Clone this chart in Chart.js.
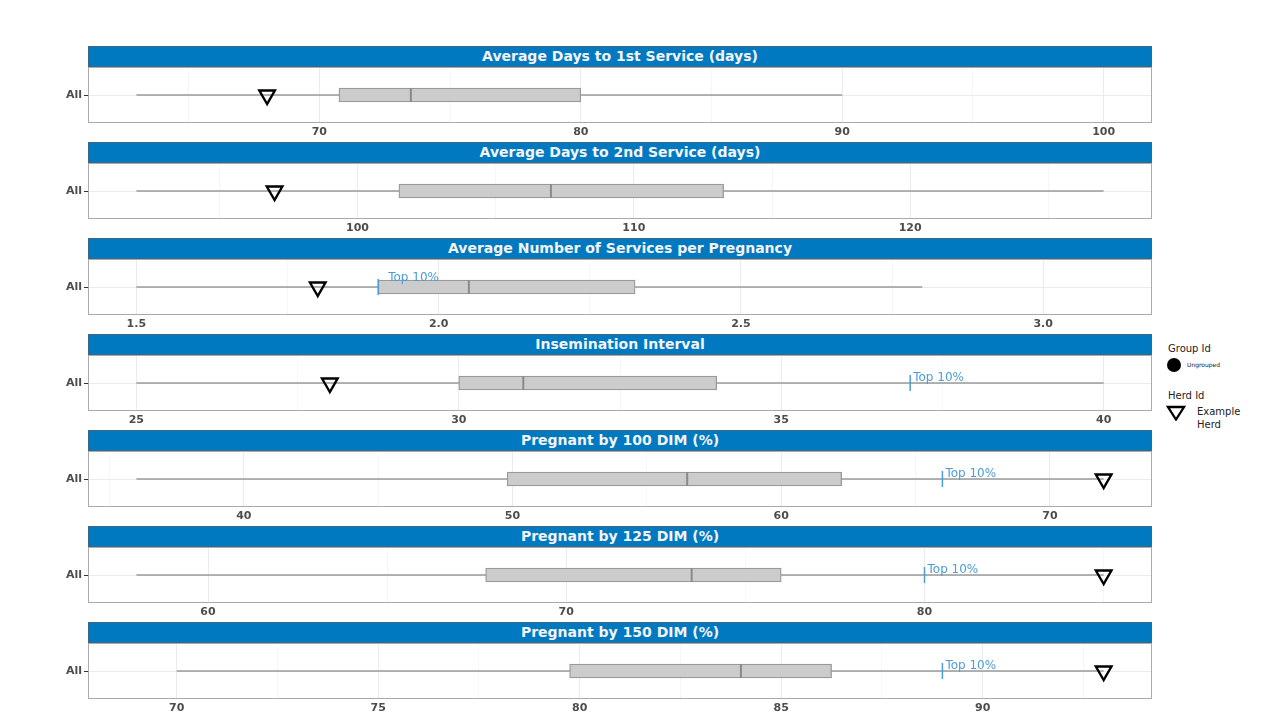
<!DOCTYPE html>
<html>
<head>
<meta charset="utf-8">
<script src="https://cdn.jsdelivr.net/npm/chart.js@4"></script>
<style>
  body { margin: 0; background: #fff; width: 1280px; height: 720px; position: relative; overflow: hidden; font-family: "DejaVu Sans", sans-serif; }
  .strip { position: absolute; left: 88px; width: 1064px; height: 21px; box-sizing: border-box; background: #0079c1; border: 1px solid #3b6789; color: #f4f4f4; font: bold 14px "DejaVu Sans", sans-serif; text-align: center; line-height: 19px; }
  .panel { position: absolute; left: 0; width: 1160px; height: 79px; }
  .legend { position: absolute; left: 1160px; top: 340px; color: #222; font-size: 10px; }
  .legend div { position: absolute; white-space: nowrap; }
</style>
</head>
<body>
<div id="charts"></div>
<div class="legend">
  <div style="left:8px;top:3px;">Group Id</div>
  <svg style="position:absolute;left:6px;top:17px;" width="16" height="16"><circle cx="8" cy="8" r="7" fill="#000"/></svg>
  <div style="left:27px;top:21px;font-size:6px;">Ungrouped</div>
  <div style="left:8px;top:50px;">Herd Id</div>
  <svg style="position:absolute;left:6px;top:65px;" width="20" height="16"><polygon points="2,2 18,2 10,14.5" fill="none" stroke="#000" stroke-width="2.3"/></svg>
  <div style="left:37px;top:66px;">Example</div>
  <div style="left:37px;top:79px;">Herd</div>
</div>
<script>
// Panel titles and box statistics
const titles = [
  'Average Days to 1st Service (days)',
  'Average Days to 2nd Service (days)',
  'Average Number of Services per Pregnancy',
  'Insemination Interval',
  'Pregnant by 100 DIM (%)',
  'Pregnant by 125 DIM (%)',
  'Pregnant by 150 DIM (%)'
];
const whiskerLow  = [63, 92, 1.5, 25, 36, 58, 70];
const q1          = [70.75, 101.5, 1.9, 30, 49.8, 67.75, 79.75];
const median      = [73.5, 107, 2.05, 31, 56.5, 73.5, 84];
const q3          = [80, 113.25, 2.325, 34, 62.25, 76, 86.25];
const whiskerHigh = [90, 127, 2.8, 40, 72, 85, 93];
const herdValue   = [68, 97, 1.8, 28, 72, 85, 93];
const top10       = [null, null, 1.9, 37, 66, 80, 89];

// Axis settings
const majorTicks = [
  [70, 80, 90, 100],
  [100, 110, 120],
  [1.5, 2.0, 2.5, 3.0],
  [25, 30, 35, 40],
  [40, 50, 60, 70],
  [60, 70, 80],
  [70, 75, 80, 85, 90]
];
const axisMin = [61.15, 90.25, 1.42, 24.25, 34.2, 56.65, 67.8];
const axisMax = [101.85, 128.75, 3.18, 40.75, 73.8, 86.35, 94.2];
const tickDecimals = [0, 0, 1, 0, 0, 0, 0];

// label nudges for "Top 10%" text (px)
const labelDx = [3, 3, 10, 3, 3, 3, 3];
const labelDy = [-5, -5, -9, -5, -5, -5, -5];

const BLUE = '#4a9dd6';

function allTicks(i) {
  const m = majorTicks[i];
  const step = m[1] - m[0];
  const out = [];
  for (let v = m[0] - step; v <= m[m.length - 1] + step + 1e-9; v += step / 2) {
    const r = Math.round(v * 1000) / 1000;
    if (r >= axisMin[i] && r <= axisMax[i]) out.push(r);
  }
  return out;
}
function isMajor(i, v) {
  return majorTicks[i].some(m => Math.abs(m - v) < 1e-6);
}

const panelBorder = {
  id: 'panelBorder',
  beforeDatasetsDraw(chart) {
    const a = chart.chartArea, ctx = chart.ctx;
    ctx.save();
    ctx.strokeStyle = '#aaaaaa';
    ctx.lineWidth = 1;
    ctx.strokeRect(a.left + 0.5, a.top + 0.5, a.right - a.left - 1, a.bottom - a.top - 1);
    ctx.restore();
  }
};

const topLabel = {
  id: 'topLabel',
  afterDatasetsDraw(chart, args, opts) {
    const meta = chart.getDatasetMeta(3);
    if (!meta.data.length) return;
    const pt = meta.data[0];
    const ctx = chart.ctx;
    ctx.save();
    ctx.font = '12px "DejaVu Sans"';
    ctx.fillStyle = BLUE;
    ctx.textAlign = 'left';
    ctx.textBaseline = 'middle';
    ctx.fillText('Top 10%', pt.x + opts.dx, pt.y + opts.dy);
    ctx.restore();
  }
};

function makePanel(i) {
  const strip = document.createElement('div');
  strip.className = 'strip';
  strip.style.top = (46 + 96 * i) + 'px';
  strip.textContent = titles[i];
  document.body.appendChild(strip);

  const box = document.createElement('div');
  box.className = 'panel';
  box.style.top = (66 + 96 * i) + 'px';
  const canvas = document.createElement('canvas');
  box.appendChild(canvas);
  document.getElementById('charts').appendChild(box);

  new Chart(canvas.getContext('2d'), {
    type: 'bar',
    data: {
      labels: ['All'],
      datasets: [
        {
          type: 'line',
          data: [{ x: whiskerLow[i], y: 'All' }, { x: whiskerHigh[i], y: 'All' }],
          borderColor: '#9a9a9a',
          borderWidth: 1.3,
          pointRadius: 0,
          order: 4
        },
        {
          type: 'bar',
          data: [[q1[i], q3[i]]],
          backgroundColor: '#cccccc',
          borderColor: '#999999',
          borderWidth: 1.3,
          borderSkipped: false,
          barThickness: 14,
          order: 3
        },
        {
          type: 'scatter',
          data: [{ x: median[i], y: 'All' }],
          pointStyle: 'line',
          rotation: 90,
          pointRadius: 7,
          borderColor: '#8a8a8a',
          borderWidth: 2,
          order: 2
        },
        {
          type: 'scatter',
          data: top10[i] === null ? [] : [{ x: top10[i], y: 'All' }],
          pointStyle: 'line',
          rotation: 90,
          pointRadius: 8,
          borderColor: BLUE,
          borderWidth: 1.5,
          order: 1
        },
        {
          type: 'scatter',
          data: [{ x: herdValue[i], y: 'All' }],
          pointStyle: 'triangle',
          rotation: 180,
          pointRadius: 9,
          backgroundColor: 'rgba(255,255,255,0)',
          borderColor: '#000',
          borderWidth: 2.4,
          order: 0
        }
      ]
    },
    options: {
      indexAxis: 'y',
      responsive: true,
      maintainAspectRatio: false,
      animation: false,
      events: [],
      layout: { autoPadding: false, padding: { top: 1, right: 8, left: 0, bottom: 0 } },
      plugins: {
        legend: { display: false },
        tooltip: { enabled: false },
        topLabel: { dx: labelDx[i], dy: labelDy[i] }
      },
      scales: {
        x: {
          type: 'linear',
          min: axisMin[i],
          max: axisMax[i],
          afterBuildTicks: s => { s.ticks = allTicks(i).map(v => ({ value: v })); },
          afterFit: s => { s.height = 22; s.paddingLeft = 0; s.paddingRight = 0; },
          border: { display: false },
          grid: {
            drawTicks: false,
            color: c => isMajor(i, c.tick.value) ? '#ebebeb' : '#f4f4f4',
            lineWidth: c => isMajor(i, c.tick.value) ? 1 : 0.7
          },
          ticks: {
            autoSkip: false,
            maxRotation: 0,
            padding: 3,
            color: '#4d4d4d',
            font: { family: 'DejaVu Sans', size: 11, weight: 'bold' },
            callback: v => isMajor(i, v) ? Number(v).toFixed(tickDecimals[i]) : ''
          }
        },
        y: {
          type: 'category',
          afterFit: s => { s.width = 88; s.paddingTop = 0; s.paddingBottom = 0; },
          border: { display: false },
          grid: { offset: false, color: '#ebebeb', tickColor: '#333', tickLength: 4 },
          ticks: {
            padding: 2,
            color: '#4d4d4d',
            font: { family: 'DejaVu Sans', size: 11, weight: 'bold' }
          }
        }
      }
    },
    plugins: [panelBorder, topLabel]
  });
}

for (let i = 0; i < titles.length; i++) makePanel(i);
</script>
</body>
</html>
